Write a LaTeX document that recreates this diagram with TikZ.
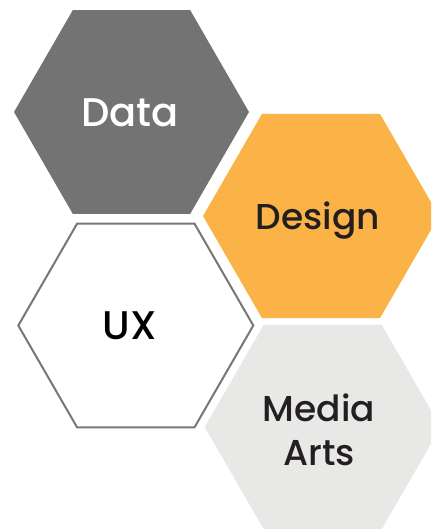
\documentclass[tikz,border=0pt]{standalone}
\usepackage{fontspec}
\setmainfont{Poppins}[UprightFont={* Medium}]
\definecolor{datagray}{HTML}{737373}
\definecolor{designorange}{HTML}{FBB347}
\definecolor{mediagray}{HTML}{E8E9E6}
\definecolor{uxline}{HTML}{777777}
\definecolor{txtdark}{HTML}{231F20}
\tikzset{
  hexlabel/.style={inner sep=0pt, font=\fontsize{40}{44}\selectfont, align=center},
}
\begin{document}
\begin{tikzpicture}[x=1pt,y=1pt]
\useasboundingbox (0,0) rectangle (431,-529);
\clip (0,0) rectangle (431,-529);
% Data
\fill[datagray, shift={(131.5,-112)}] (0:117.5) -- (60:117.5) -- (120:117.5) -- (180:117.5) -- (240:117.5) -- (300:117.5) -- cycle;
% Design
\fill[designorange, shift={(321,-216)}] (0:118) -- (60:118) -- (120:118) -- (180:118) -- (240:118) -- (300:118) -- cycle;
% UX
\draw[uxline, fill=white, line width=2pt, shift={(135.8,-325.5)}] (0:117.5) -- (60:117.5) -- (120:117.5) -- (180:117.5) -- (240:117.5) -- (300:117.5) -- cycle;
% Media Arts
\fill[mediagray, shift={(322.7,-427)}] (0:118) -- (60:118) -- (120:118) -- (180:118) -- (240:118) -- (300:118) -- cycle;
\node[hexlabel, anchor=base, text=white] (data) at (130,-126.7) {Data};
\node[hexlabel, anchor=base, text=txtdark, font=\fontsize{36}{44}\selectfont] (design) at (318,-229) {Design};
\node[hexlabel, anchor=base, text=black] (ux) at (129.7,-339.3) {UX};
\node[hexlabel, anchor=base, text=txtdark, font=\fontsize{36}{44}\selectfont] (media) at (319,-465) {Media\\Arts};
\end{tikzpicture}
\end{document}
